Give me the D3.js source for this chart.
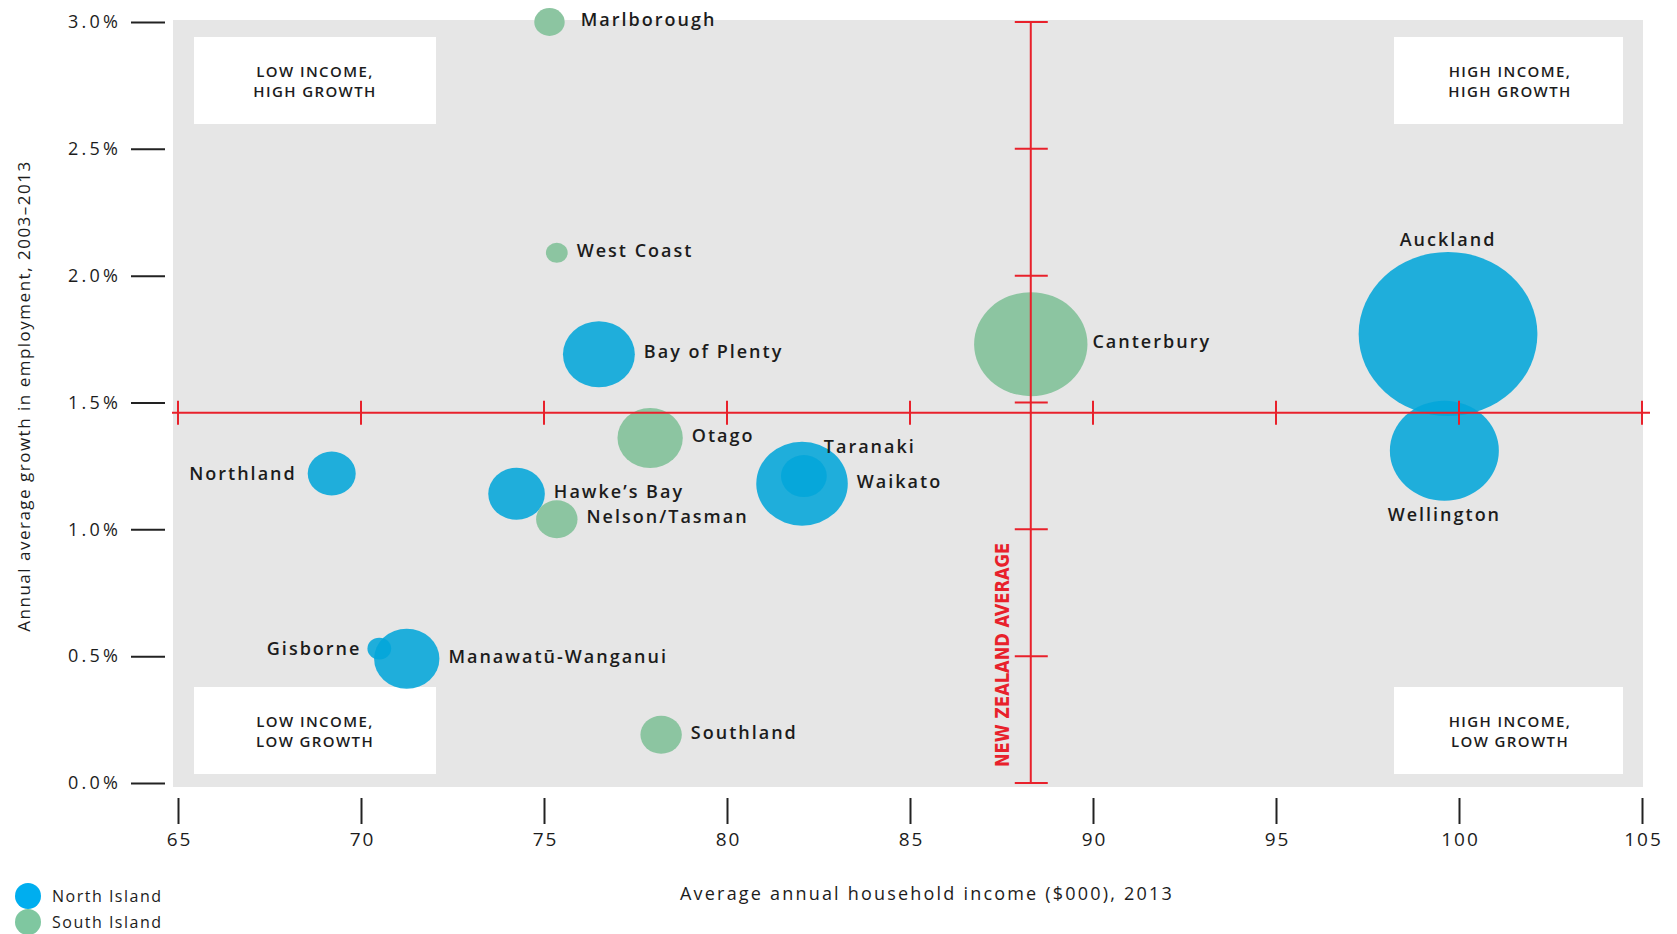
<!DOCTYPE html>
<meta charset="utf-8">
<head>
<script src="https://d3js.org/d3.v7.min.js"></script>
<style>
  body { margin: 0; background: #fff; font-family: "Open Sans", sans-serif; }
  svg text { fill: #1c1c1c; }
</style>
</head>
<body>
<div id="my_dataviz"></div>
<script>

// data
var regions = ["Northland", "Auckland", "Waikato", "Bay of Plenty", "Gisborne", "Hawke\u2019s Bay",
               "Taranaki", "Manawat\u016b-Wanganui", "Wellington", "Nelson/Tasman", "Marlborough",
               "West Coast", "Canterbury", "Otago", "Southland"];
var island = ["North", "North", "North", "North", "North", "North", "North", "North", "North",
              "South", "South", "South", "South", "South", "South"];
// average annual household income ($000), 2013
var income = [69.2, 99.7, 82.05, 76.5, 70.5, 74.25, 82.1, 71.25, 99.6, 75.35, 75.15, 75.35, 88.3, 77.9, 78.2];
// annual average growth in employment, 2003-2013 (%)
var growth = [1.22, 1.77, 1.18, 1.69, 0.53, 1.14, 1.21, 0.49, 1.31, 1.04, 3.0, 2.09, 1.73, 1.36, 0.19];
// bubble size (population, thousands)
var population = [102, 1415, 371, 229, 25, 142, 93, 189, 526, 76, 41, 21, 569, 189, 76];

var xTicks = [65, 70, 75, 80, 85, 90, 95, 100, 105];
var yTicks = [0, 0.5, 1.0, 1.5, 2.0, 2.5, 3.0];
var nzAvgIncome = 88.3;
var nzAvgGrowth = 1.46;

var quadrants = [
  {lines: ["LOW INCOME,", "HIGH GROWTH"], corner: "tl"},
  {lines: ["HIGH INCOME,", "HIGH GROWTH"], corner: "tr"},
  {lines: ["LOW INCOME,", "LOW GROWTH"], corner: "bl"},
  {lines: ["HIGH INCOME,", "LOW GROWTH"], corner: "br"}
];

// label placement (layout only)
var labelPos = {
  "Northland": {side: "left", gap: 11},
  "Gisborne": {side: "left", gap: 6},
  "Auckland": {side: "above", gap: 13},
  "Wellington": {side: "below", gap: 13},
  "Taranaki": {side: "right", gap: -3, dy: -30},
  "Canterbury": {side: "right", gap: 5},
  "Marlborough": {side: "right", gap: 16}
};

var width = 1677, height = 934;
var blue = "#03a6da", green = "#8cc5a1", red = "#e8212b";

var svg = d3.select("#my_dataviz")
  .append("svg")
    .attr("width", width)
    .attr("height", height);

var x = d3.scaleLinear().domain([65, 105]).range([178, 1642]);
var y = d3.scaleLinear().domain([0, 3]).range([783, 22]);
var r = d3.scaleSqrt().domain([0, 1415]).range([0, 82]);
var stretch = 1.09; // bubbles are slightly wider than tall

// grey plot panel
svg.append("rect")
  .attr("x", 173).attr("y", 20)
  .attr("width", 1643 - 173).attr("height", 787 - 20)
  .attr("fill", "#e6e6e6");

// quadrant boxes
var boxH = 87;
var qb = svg.selectAll(".quad")
  .data(quadrants)
  .enter()
  .append("g")
    .attr("transform", function(d) {
      var bx = d.corner[1] == "l" ? 194 : 1394;
      var by = d.corner[0] == "t" ? 37 : 687;
      return "translate(" + bx + "," + by + ")";
    });
qb.append("rect")
  .attr("width", function(d) { return d.corner[1] == "l" ? 242 : 229; })
  .attr("height", boxH)
  .attr("fill", "#fff");
qb.append("text")
  .attr("x", function(d) { return d.corner[1] == "l" ? 121 : 116; })
  .attr("y", 40)
  .attr("text-anchor", "middle")
  .style("font-size", "15px")
  .style("font-weight", "600")
  .style("letter-spacing", "1.4px")
  .selectAll("tspan")
  .data(function(d) { return d.lines; })
  .enter()
  .append("tspan")
    .attr("x", function() { return this.parentNode.getAttribute("x"); })
    .attr("dy", function(d, i) { return i ? 20 : 0; })
    .text(function(d) { return d; });

// y axis (ticks only)
var yAxis = svg.append("g")
  .attr("transform", "translate(165,0)")
  .call(d3.axisLeft(y).tickValues(yTicks).tickSize(34).tickPadding(10)
        .tickFormat(function(d) { return d.toFixed(1) + "%"; }));
yAxis.select(".domain").remove();
yAxis.selectAll("line").attr("stroke", "#222").attr("stroke-width", 2);
yAxis.selectAll("text")
  .style("font-size", "18px").style("font-family", "Open Sans")
  .style("letter-spacing", "3.2px").attr("fill", "#1c1c1c");

// x axis (ticks only)
var xAxis = svg.append("g")
  .attr("transform", "translate(0,824)")
  .call(d3.axisTop(x).tickValues(xTicks).tickSize(26).tickFormat(d3.format("d")));
xAxis.select(".domain").remove();
xAxis.selectAll("line").attr("stroke", "#222").attr("stroke-width", 2);
xAxis.selectAll("text")
  .attr("y", 22).attr("dx", "1px")
  .style("font-size", "19px").style("font-family", "Open Sans")
  .style("letter-spacing", "2px").attr("fill", "#1c1c1c");

// axis titles
svg.append("text")
  .attr("x", 927).attr("y", 900)
  .attr("text-anchor", "middle")
  .style("font-size", "18px")
  .style("letter-spacing", "2.2px")
  .text("Average annual household income ($000), 2013");

svg.append("text")
  .attr("transform", "translate(30,396) rotate(-90)")
  .attr("text-anchor", "middle")
  .style("font-size", "17px")
  .style("letter-spacing", "1.5px")
  .text("Annual average growth in employment, 2003\u20132013");

// bubbles
var data = regions.map(function(name, i) {
  return {name: name, island: island[i], income: income[i], growth: growth[i], pop: population[i]};
});
var drawOrder = data.slice().sort(function(a, b) { return b.pop - a.pop; });

svg.append("g")
  .selectAll("ellipse")
  .data(drawOrder)
  .enter()
  .append("ellipse")
    .attr("cx", function(d) { return x(d.income); })
    .attr("cy", function(d) { return y(d.growth); })
    .attr("rx", function(d) { return r(d.pop) * stretch; })
    .attr("ry", function(d) { return r(d.pop); })
    .attr("fill", function(d) { return d.island == "North" ? blue : green; })
    .attr("fill-opacity", function(d) { return d.island == "North" ? 0.88 : 1; });

// New Zealand average cross
var avg = svg.append("g").attr("stroke", red).attr("stroke-width", 2);
avg.append("line")
  .attr("x1", 172).attr("x2", 1650)
  .attr("y1", y(nzAvgGrowth)).attr("y2", y(nzAvgGrowth));
avg.append("line")
  .attr("x1", x(nzAvgIncome)).attr("x2", x(nzAvgIncome))
  .attr("y1", y(3)).attr("y2", y(0));
avg.selectAll(".xt")
  .data(xTicks)
  .enter()
  .append("line")
    .attr("x1", function(d) { return x(d); }).attr("x2", function(d) { return x(d); })
    .attr("y1", y(nzAvgGrowth) - 12).attr("y2", y(nzAvgGrowth) + 12);
avg.selectAll(".yt")
  .data(yTicks)
  .enter()
  .append("line")
    .attr("x1", x(nzAvgIncome) - 16).attr("x2", x(nzAvgIncome) + 17)
    .attr("y1", function(d) { return y(d); }).attr("y2", function(d) { return y(d); });

svg.append("text")
  .attr("transform", "translate(" + (x(nzAvgIncome) - 22) + ",655) rotate(-90)")
  .attr("text-anchor", "middle")
  .attr("textLength", 224)
  .attr("lengthAdjust", "spacingAndGlyphs")
  .style("font-family", "'DejaVu Sans Condensed', 'Liberation Sans Narrow', sans-serif")
  .style("font-weight", "bold")
  .style("font-size", "19px")
  .style("fill", red)
  .text("NEW ZEALAND AVERAGE");

// region labels
svg.append("g")
  .selectAll("text")
  .data(data)
  .enter()
  .append("text")
    .style("font-size", "18px")
    .style("font-weight", "600")
    .style("letter-spacing", "2px")
    .attr("dominant-baseline", "central")
    .each(function(d) {
      var p = labelPos[d.name] || {side: "right", gap: 9};
      var cx = x(d.income), cy = y(d.growth), ry = r(d.pop), rx = ry * stretch;
      var t = d3.select(this);
      if (p.side == "right") {
        t.attr("x", cx + rx + p.gap).attr("y", cy + (p.dy || -3)).attr("text-anchor", "start");
      } else if (p.side == "left") {
        t.attr("x", cx - rx - p.gap).attr("y", cy - 1).attr("text-anchor", "end");
      } else if (p.side == "above") {
        t.attr("x", cx).attr("y", cy - ry - p.gap).attr("text-anchor", "middle");
      } else {
        t.attr("x", cx).attr("y", cy + ry + p.gap).attr("text-anchor", "middle");
      }
      t.text(d.name);
    });

// legend
var legend = svg.append("g")
  .selectAll("g")
  .data([{label: "North Island", color: "#00aeef"}, {label: "South Island", color: "#7fc7a0"}])
  .enter()
  .append("g")
    .attr("transform", function(d, i) { return "translate(28," + (896 + i * 26) + ")"; });
legend.append("circle").attr("r", 13).attr("fill", function(d) { return d.color; });
legend.append("text")
  .attr("x", 24).attr("dominant-baseline", "central")
  .style("font-size", "16px")
  .style("letter-spacing", "1.5px")
  .text(function(d) { return d.label; });

</script>
</body>
